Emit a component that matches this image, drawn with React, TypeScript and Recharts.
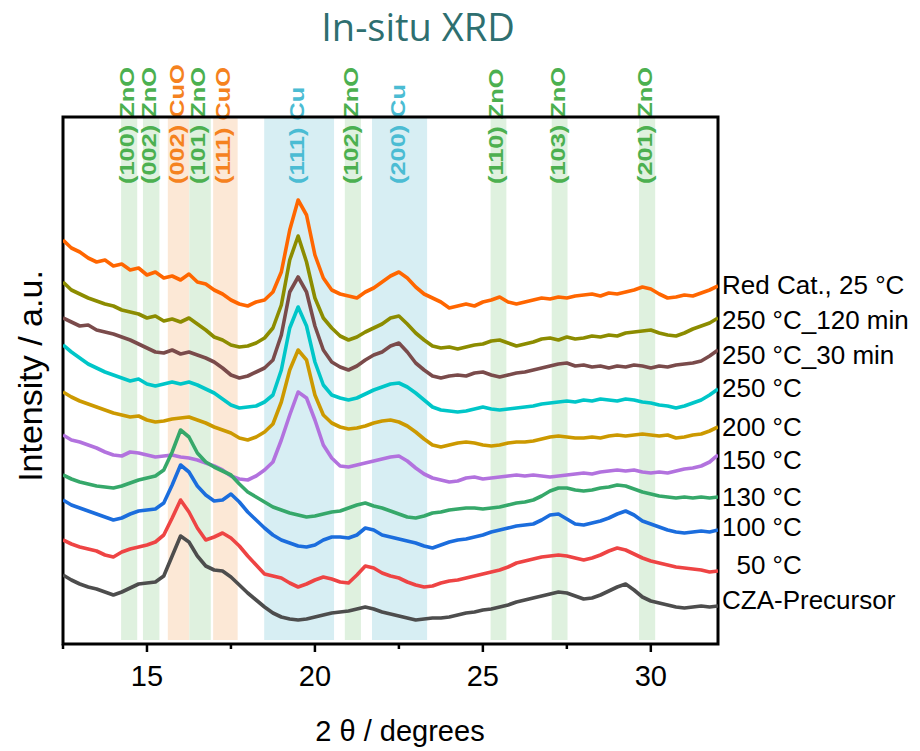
import React from "react";
import { LineChart, Line, XAxis, YAxis, ReferenceArea } from "recharts";

// 2θ grid, degrees
const twoTheta = [
  12.5, 12.75, 13, 13.25, 13.5, 13.75, 14, 14.25, 14.5, 14.75,
  15, 15.25, 15.5, 15.75, 16, 16.25, 16.5, 16.75, 17, 17.25,
  17.5, 17.75, 18, 18.25, 18.5, 18.75, 19, 19.25, 19.5, 19.75,
  20, 20.25, 20.5, 20.75, 21, 21.25, 21.5, 21.75, 22, 22.25,
  22.5, 22.75, 23, 23.25, 23.5, 23.75, 24, 24.25, 24.5, 24.75,
  25, 25.25, 25.5, 25.75, 26, 26.25, 26.5, 26.75, 27, 27.25,
  27.5, 27.75, 28, 28.25, 28.5, 28.75, 29, 29.25, 29.5, 29.75,
  30, 30.25, 30.5, 30.75, 31, 31.25, 31.5, 31.75, 32,
];

// stacked intensities (a.u., offsets included)
const redCat25 = [
  404, 396, 392, 386, 382, 384, 378, 380, 374, 376,
  369, 372, 366, 368, 364, 370, 362, 360, 354, 350,
  344, 340, 338, 342, 344, 352, 372, 414, 444, 429,
  389, 366, 354, 350, 348, 346, 352, 356, 362, 368,
  372, 366, 357, 350, 346, 342, 336, 338, 340, 338,
  342, 344, 347, 342, 340, 342, 344, 346, 345, 347,
  346, 348, 349, 350, 348, 351, 350, 352, 354, 357,
  355, 350, 346, 347, 349, 348, 351, 354, 358,
];
const t250min120 = [
  362, 354, 350, 346, 343, 340, 338, 334, 332, 330,
  326, 328, 323, 325, 322, 326, 320, 314, 307, 304,
  299, 297, 298, 301, 306, 316, 339, 384, 408, 382,
  346, 326, 316, 308, 304, 307, 312, 316, 320, 326,
  328, 320, 311, 304, 298, 296, 297, 295, 297, 299,
  300, 303, 304, 301, 298, 300, 302, 305, 306, 304,
  307, 305, 306, 308, 307, 309, 308, 311, 312, 313,
  314, 311, 309, 308, 311, 315, 318, 321, 326,
];
const t250min30 = [
  326, 322, 318, 319, 314, 312, 310, 307, 304, 300,
  296, 292, 291, 294, 290, 292, 289, 286, 282, 276,
  269, 266, 268, 272, 276, 284, 309, 352, 367, 352,
  318, 294, 282, 277, 274, 278, 284, 289, 292, 298,
  301, 292, 281, 274, 268, 266, 268, 269, 268, 271,
  272, 269, 267, 269, 271, 272, 274, 276, 278, 280,
  281, 278, 279, 277, 278, 276, 278, 277, 279, 278,
  276, 278, 277, 279, 280, 281, 283, 288, 294,
];
const t250 = [
  299, 292, 286, 280, 276, 272, 269, 266, 263, 265,
  260, 258, 260, 262, 260, 262, 259, 255, 251, 245,
  239, 236, 237, 238, 242, 249, 274, 316, 337, 318,
  282, 259, 249, 246, 244, 246, 250, 254, 257, 260,
  261, 257, 251, 244, 237, 234, 233, 232, 233, 235,
  237, 235, 234, 235, 236, 237, 238, 240, 241, 242,
  243, 242, 244, 243, 245, 244, 243, 245, 244, 242,
  241, 239, 238, 236, 238, 241, 244, 249, 255,
];
const t200 = [
  252, 247, 243, 240, 237, 234, 231, 229, 227, 228,
  224, 222, 223, 225, 226, 227, 224, 221, 217, 214,
  211, 206, 204, 207, 212, 220, 242, 274, 294, 284,
  249, 229, 221, 217, 215, 216, 218, 221, 223, 224,
  222, 218, 212, 205, 199, 197, 199, 201, 202, 201,
  199, 198, 199, 201, 202, 202, 203, 205, 207, 208,
  207, 206, 206, 207, 206, 208, 209, 208, 209, 210,
  209, 208, 209, 206, 207, 209, 210, 213, 217,
];
const t150 = [
  209, 204, 202, 199, 196, 192, 189, 188, 192, 191,
  189, 187, 188, 189, 187, 186, 184, 181, 178, 174,
  168, 165, 164, 168, 174, 182, 204, 229, 252, 246,
  224, 199, 186, 178, 177, 179, 181, 183, 185, 187,
  188, 183, 176, 170, 166, 164, 162, 163, 166, 167,
  165, 166, 167, 168, 169, 168, 169, 168, 167, 168,
  169, 170, 171, 170, 172, 173, 174, 173, 174, 172,
  171, 172, 171, 173, 175, 176, 178, 182, 189,
];
const t130 = [
  169, 165, 162, 160, 158, 157, 156, 158, 161, 164,
  166, 168, 174, 192, 214, 207, 191, 182, 177, 173,
  169, 160, 152, 147, 142, 137, 134, 131, 129, 127,
  128, 130, 132, 133, 136, 139, 141, 138, 136, 133,
  130, 127, 126, 128, 131, 132, 134, 135, 136, 136,
  135, 136, 137, 139, 141, 142, 144, 148, 153, 156,
  156, 154, 153, 154, 156, 157, 159, 158, 155, 152,
  150, 148, 147, 146, 147, 146, 147, 146, 147,
];
const t100 = [
  144, 139, 136, 133, 130, 127, 124, 126, 130, 133,
  134, 135, 141, 159, 179, 172, 158, 149, 143, 144,
  150, 142, 132, 124, 116, 109, 104, 101, 98, 97,
  99, 104, 107, 107, 106, 109, 116, 114, 109, 107,
  105, 103, 101, 98, 96, 99, 102, 104, 105, 107,
  109, 112, 114, 116, 118, 119, 120, 124, 129, 130,
  125, 120, 119, 121, 123, 126, 130, 133, 129, 123,
  120, 117, 114, 112, 111, 112, 113, 112, 114,
];
const t50 = [
  104, 100, 97, 95, 93, 89, 87, 92, 95, 97,
  99, 102, 109, 126, 144, 132, 116, 104, 107, 111,
  106, 98, 88, 79, 70, 68, 66, 61, 57, 60,
  64, 67, 65, 62, 61, 69, 78, 76, 71, 68,
  66, 62, 59, 57, 58, 61, 63, 64, 66, 68,
  70, 72, 74, 77, 81, 83, 85, 87, 88, 89,
  88, 86, 84, 86, 89, 93, 96, 94, 90, 86,
  83, 81, 79, 77, 76, 75, 74, 72, 73,
];
const czaPrecursor = [
  69, 64, 60, 57, 55, 52, 49, 52, 56, 60,
  61, 62, 68, 88, 108, 102, 88, 78, 74, 73,
  67, 59, 51, 44, 37, 31, 27, 25, 24, 25,
  27, 29, 31, 32, 33, 35, 37, 35, 32, 30,
  28, 26, 24, 25, 26, 26, 27, 29, 31, 32,
  34, 35, 37, 39, 42, 44, 46, 48, 50, 52,
  51, 48, 45, 46, 49, 53, 57, 60, 54, 47,
  43, 41, 39, 37, 36, 37, 38, 37, 38,
];

const seriesNames = [
  "Red Cat., 25 °C",
  "250 °C_120 min",
  "250 °C_30 min",
  "250 °C",
  "200 °C",
  "150 °C",
  "130 °C",
  "100 °C",
  "  50 °C",
  "CZA-Precursor",
];
const seriesValues = [
  redCat25, t250min120, t250min30, t250, t200, t150, t130, t100, t50, czaPrecursor,
];
const seriesColors = [
  "#FF6600", "#8C8C00", "#7A4B4B", "#00C6C8", "#CC9900",
  "#B272DE", "#36A86A", "#1B6DDD", "#EE4444", "#4D4D4D",
];
// label centre heights on the right, px
const labelY = [285, 320, 355, 388, 427, 460, 497, 527, 565, 600];

// reflection bands
const bandPhase = ["ZnO", "ZnO", "CuO", "ZnO", "CuO", "Cu", "ZnO", "Cu", "ZnO", "ZnO", "ZnO"];
const bandHkl = ["(100)", "(002)", "(002)", "(101)", "(111)", "(111)", "(102)", "(200)", "(110)", "(103)", "(201)"];
const bandFrom = [14.23, 14.88, 15.62, 16.26, 16.97, 18.49, 20.89, 21.7, 25.23, 27.05, 29.65];
const bandTo = [14.71, 15.37, 16.26, 16.9, 17.7, 20.57, 21.37, 23.34, 25.7, 27.52, 30.13];

const xTicks = [12.5, 15, 17.5, 20, 22.5, 25, 27.5, 30];

const phaseText: Record<string, string> = { ZnO: "#4CB050", CuO: "#F5821F", Cu: "#4BBCD3" };
const phaseFill: Record<string, string> = { ZnO: "#DFF1DF", CuO: "#FCE8D6", Cu: "#D7EEF3" };

const FONT = "'Liberation Sans', Arial, sans-serif";

const rows = twoTheta.map((t, i) => {
  const r: Record<string, number> = { t };
  seriesValues.forEach((s, k) => (r["s" + k] = s[i]));
  return r;
});

const XTick = (props: any) => {
  const { x, y, payload } = props;
  const major = payload.value % 5 === 0;
  return (
    <g>
      <line x1={x} x2={x} y1={y} y2={y + (major ? 8 : 5)} stroke="#000" strokeWidth={2.5} />
      {major && (
        <text x={x} y={y + 42} textAnchor="middle" fontSize={29} fontFamily={FONT} fill="#000">
          {payload.value}
        </text>
      )}
    </g>
  );
};

const bandLabel = (i: number) => (props: any) => {
  const vb = props.viewBox;
  const cx = vb.x + vb.width / 2 - 2;
  return (
    <text
      transform={`translate(${cx + 7},${vb.y + 67}) rotate(-90) scale(1.3,1)`}
      fontSize={19.5}
      fontWeight="bold"
      fontFamily={FONT}
      fill={phaseText[bandPhase[i]]}
    >
      {`${bandHkl[i]} ${bandPhase[i]}`}
    </text>
  );
};

export default function App() {
  return (
    <div style={{ position: "absolute", left: 0, top: 0, width: 920, height: 751, background: "#fff", fontFamily: FONT }}>
      <LineChart width={920} height={751} data={rows} margin={{ top: 117, right: 202, bottom: 0, left: 63 }}>
        <XAxis
          type="number"
          dataKey="t"
          domain={[12.5, 32]}
          ticks={xTicks}
          interval={0}
          allowDataOverflow
          axisLine={false}
          tickLine={false}
          tickSize={0}
          tickMargin={0}
          height={107}
          tick={<XTick />}
        />
        <YAxis hide domain={[0, 527]} allowDataOverflow />
        {bandFrom.map((x1, i) => (
          <ReferenceArea
            key={"b" + i}
            x1={x1}
            x2={bandTo[i]}
            y1={4}
            y2={527}
            fill={phaseFill[bandPhase[i]]}
            fillOpacity={1}
            stroke="none"
            label={bandLabel(i)}
          />
        ))}
        {seriesValues.map((_, k) => (
          <Line
            key={"s" + k}
            dataKey={"s" + k}
            type="linear"
            stroke={seriesColors[k]}
            strokeWidth={3.6}
            strokeLinejoin="round"
            dot={false}
            isAnimationActive={false}
          />
        ))}
        <ReferenceArea x1={12.5} x2={32} y1={0} y2={527} fill="none" stroke="#000" strokeWidth={3} />
      </LineChart>

      <div
        style={{
          position: "absolute",
          left: 0,
          width: 836,
          top: 4,
          lineHeight: "44px",
          textAlign: "center",
          fontFamily: "'Open Sans', sans-serif",
          fontSize: 38,
          color: "#2E6F70",
        }}
      >
        In-situ XRD
      </div>
      <div
        style={{
          position: "absolute",
          left: 30,
          top: 376,
          transform: "translate(-50%,-50%) rotate(-90deg)",
          whiteSpace: "nowrap",
          fontSize: 34,
          lineHeight: "38px",
          color: "#000",
        }}
      >
        Intensity / a.u.
      </div>
      <div
        style={{
          position: "absolute",
          left: 0,
          width: 800,
          top: 715,
          lineHeight: "33px",
          textAlign: "center",
          fontSize: 29,
          color: "#000",
        }}
      >
        2 θ / degrees
      </div>
      {seriesNames.map((n, k) => (
        <div
          key={n}
          style={{
            position: "absolute",
            left: 722,
            top: labelY[k],
            transform: "translateY(-50%)",
            whiteSpace: "pre",
            fontSize: 26,
            lineHeight: "28px",
            color: "#000",
          }}
        >
          {n}
        </div>
      ))}
    </div>
  );
}
